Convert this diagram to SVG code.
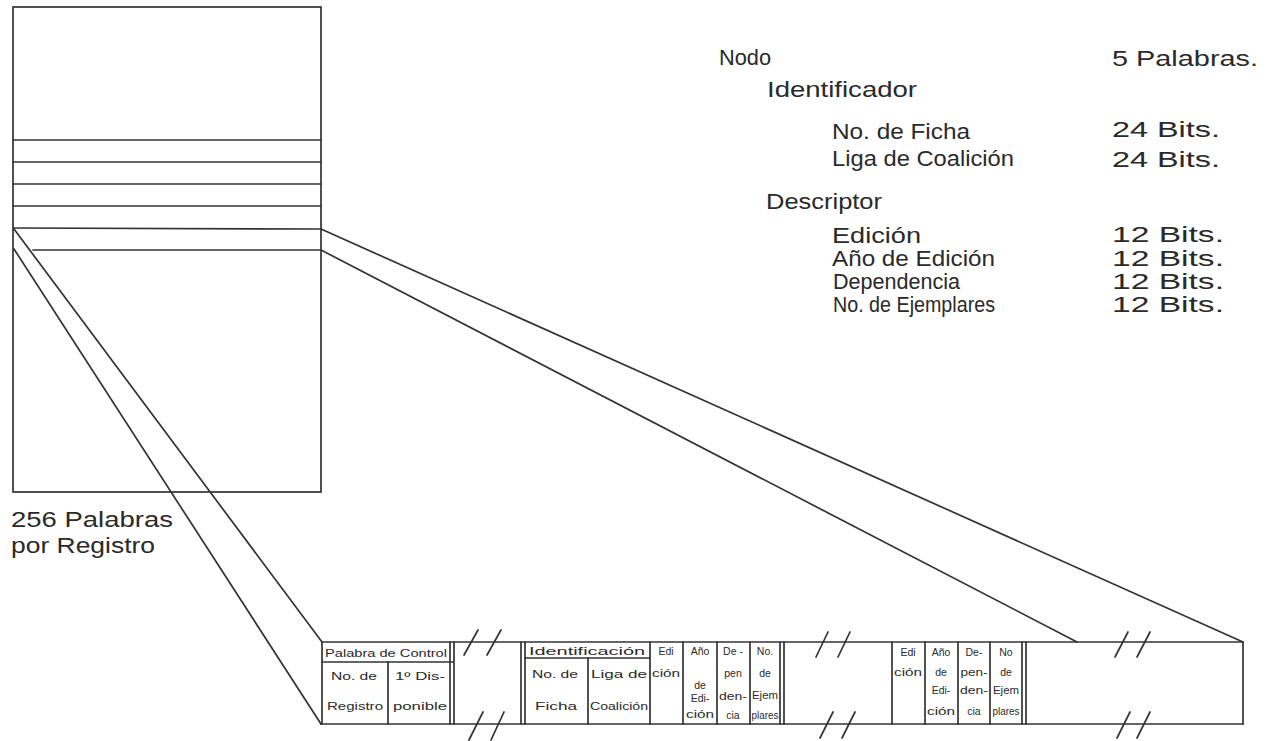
<svg xmlns="http://www.w3.org/2000/svg" width="1266" height="741" viewBox="0 0 1266 741">
<style>
.ln{stroke:#333;stroke-width:1.7;fill:none;stroke-linecap:round}
.t{font-family:"Liberation Sans",Arial,sans-serif;fill:#2a2a2a}
.big{font-size:22px}
.cell{font-size:10.5px;text-anchor:middle}
.hdr{font-size:11px;text-anchor:middle}
</style>
<rect width="1266" height="741" fill="#ffffff"/>

<g id="registro">
  <rect class="ln" x="13" y="7" width="308" height="485"/>
  <line class="ln" x1="13" y1="140" x2="321" y2="140"/>
  <line class="ln" x1="13" y1="162" x2="321" y2="162"/>
  <line class="ln" x1="13" y1="184" x2="321" y2="184"/>
  <line class="ln" x1="13" y1="206" x2="321" y2="206"/>
  <line class="ln" x1="13" y1="228" x2="321" y2="229"/>
  <line class="ln" x1="33" y1="250" x2="321" y2="250"/>
</g>

<g id="registro-label" class="t big">
  <text x="11" y="527" textLength="162" lengthAdjust="spacingAndGlyphs">256 Palabras</text>
  <text x="11" y="553" textLength="144" lengthAdjust="spacingAndGlyphs">por Registro</text>
</g>

<g id="nodo-legend" class="t big">
  <text x="719" y="65" textLength="52" lengthAdjust="spacingAndGlyphs">Nodo</text>
  <text x="1112" y="66" textLength="146" lengthAdjust="spacingAndGlyphs">5 Palabras.</text>
  <text x="767" y="97" textLength="150" lengthAdjust="spacingAndGlyphs">Identificador</text>
  <text x="832" y="139" textLength="138" lengthAdjust="spacingAndGlyphs">No. de Ficha</text>
  <text x="1112" y="137" textLength="108" lengthAdjust="spacingAndGlyphs">24 Bits.</text>
  <text x="832" y="166" textLength="182" lengthAdjust="spacingAndGlyphs">Liga de Coalición</text>
  <text x="1112" y="167" textLength="108" lengthAdjust="spacingAndGlyphs">24 Bits.</text>
  <text x="766" y="209" textLength="116" lengthAdjust="spacingAndGlyphs">Descriptor</text>
  <text x="832" y="243" textLength="89" lengthAdjust="spacingAndGlyphs">Edición</text>
  <text x="1112" y="242" textLength="112" lengthAdjust="spacingAndGlyphs">12 Bits.</text>
  <text x="832" y="266" textLength="163" lengthAdjust="spacingAndGlyphs">Año de Edición</text>
  <text x="1112" y="266" textLength="112" lengthAdjust="spacingAndGlyphs">12 Bits.</text>
  <text x="833" y="289" textLength="127" lengthAdjust="spacingAndGlyphs">Dependencia</text>
  <text x="1112" y="289" textLength="112" lengthAdjust="spacingAndGlyphs">12 Bits.</text>
  <text x="833" y="312" textLength="162" lengthAdjust="spacingAndGlyphs">No. de Ejemplares</text>
  <text x="1112" y="312" textLength="112" lengthAdjust="spacingAndGlyphs">12 Bits.</text>
</g>

<g id="connectors">
  <line class="ln" x1="14" y1="229" x2="322" y2="642"/>
  <line class="ln" x1="14" y1="249" x2="321" y2="724"/>
  <line class="ln" x1="321" y1="229" x2="1243" y2="642"/>
  <line class="ln" x1="321" y1="250" x2="1077" y2="642"/>
</g>

<g id="strip">
  <line class="ln" x1="322" y1="642" x2="1243" y2="642"/>
  <line class="ln" x1="321" y1="724" x2="1243" y2="724"/>
  <line class="ln" x1="1243" y1="642" x2="1243" y2="724"/>
  <line class="ln" x1="322" y1="642" x2="322" y2="724"/>
  <g id="breaks">
    <line class="ln" x1="464" y1="655" x2="478" y2="630"/>
    <line class="ln" x1="487" y1="655" x2="501" y2="630"/>
    <line class="ln" x1="469" y1="740" x2="483" y2="712"/>
    <line class="ln" x1="491" y1="740" x2="504" y2="712"/>
    <line class="ln" x1="816" y1="657" x2="828" y2="632"/>
    <line class="ln" x1="838" y1="657" x2="850" y2="632"/>
    <line class="ln" x1="820" y1="738" x2="833" y2="712"/>
    <line class="ln" x1="842" y1="738" x2="855" y2="712"/>
    <line class="ln" x1="1115" y1="657" x2="1128" y2="632"/>
    <line class="ln" x1="1137" y1="657" x2="1150" y2="632"/>
    <line class="ln" x1="1117" y1="738" x2="1130" y2="712"/>
    <line class="ln" x1="1137" y1="738" x2="1150" y2="712"/>
  </g>
</g>

<g id="palabra-control">
  <line class="ln" x1="322" y1="662" x2="453" y2="662"/>
  <line class="ln" x1="388" y1="662" x2="388" y2="724"/>
  <line class="ln" x1="450" y1="642" x2="450" y2="724"/>
  <line class="ln" x1="454" y1="642" x2="454" y2="724"/>
  <g class="t">
    <text class="hdr" x="386" y="657" textLength="122" lengthAdjust="spacingAndGlyphs">Palabra de Control</text>
    <text class="hdr" x="354" y="680" textLength="46" lengthAdjust="spacingAndGlyphs">No. de</text>
    <text class="hdr" x="355" y="710" textLength="56" lengthAdjust="spacingAndGlyphs">Registro</text>
    <text class="hdr" x="420" y="680" textLength="50" lengthAdjust="spacingAndGlyphs">1º Dis-</text>
    <text class="hdr" x="420" y="710" textLength="54" lengthAdjust="spacingAndGlyphs">ponible</text>
  </g>
</g>

<g id="nodo-1">
  <line class="ln" x1="521" y1="642" x2="521" y2="724"/>
  <line class="ln" x1="525" y1="642" x2="525" y2="724"/>
  <line class="ln" x1="525" y1="658" x2="650" y2="658"/>
  <line class="ln" x1="588" y1="658" x2="588" y2="724"/>
  <line class="ln" x1="650" y1="642" x2="650" y2="724"/>
  <line class="ln" x1="683" y1="642" x2="683" y2="724"/>
  <line class="ln" x1="717" y1="642" x2="717" y2="724"/>
  <line class="ln" x1="750" y1="642" x2="750" y2="724"/>
  <line class="ln" x1="780" y1="642" x2="780" y2="724"/>
  <line class="ln" x1="784" y1="642" x2="784" y2="724"/>
  <g class="t">
    <text class="hdr" x="587" y="655" textLength="116" lengthAdjust="spacingAndGlyphs">Identificación</text>
    <text class="hdr" x="555" y="678" textLength="46" lengthAdjust="spacingAndGlyphs">No. de</text>
    <text class="hdr" x="556" y="710" textLength="42" lengthAdjust="spacingAndGlyphs">Ficha</text>
    <text class="hdr" x="619" y="678" textLength="56" lengthAdjust="spacingAndGlyphs">Liga de</text>
    <text class="hdr" x="619" y="710" textLength="58" lengthAdjust="spacingAndGlyphs">Coalición</text>
    <text class="cell" x="666" y="655">Edi</text>
    <text class="cell" x="666" y="677" textLength="28" lengthAdjust="spacingAndGlyphs">ción</text>
    <text class="cell" x="700" y="655">Año</text>
    <text class="cell" x="700" y="689">de</text>
    <text class="cell" x="700" y="702">Edi-</text>
    <text class="cell" x="700" y="718" textLength="28" lengthAdjust="spacingAndGlyphs">ción</text>
    <text class="cell" x="733" y="655">De -</text>
    <text class="cell" x="733" y="677">pen</text>
    <text class="cell" x="733" y="700" textLength="28" lengthAdjust="spacingAndGlyphs">den-</text>
    <text class="cell" x="733" y="719">cia</text>
    <text class="cell" x="765" y="655">No.</text>
    <text class="cell" x="765" y="677">de</text>
    <text class="cell" x="765" y="699" textLength="26" lengthAdjust="spacingAndGlyphs">Ejem</text>
    <text class="cell" x="765" y="719" textLength="27" lengthAdjust="spacingAndGlyphs">plares</text>
  </g>
</g>

<g id="nodo-2">
  <line class="ln" x1="892" y1="642" x2="892" y2="724"/>
  <line class="ln" x1="925" y1="642" x2="925" y2="724"/>
  <line class="ln" x1="958" y1="642" x2="958" y2="724"/>
  <line class="ln" x1="990" y1="642" x2="990" y2="724"/>
  <line class="ln" x1="1022" y1="642" x2="1022" y2="724"/>
  <line class="ln" x1="1026" y1="642" x2="1026" y2="724"/>
  <g class="t">
    <text class="cell" x="908" y="656">Edi</text>
    <text class="cell" x="908" y="676" textLength="28" lengthAdjust="spacingAndGlyphs">ción</text>
    <text class="cell" x="941" y="656">Año</text>
    <text class="cell" x="941" y="676">de</text>
    <text class="cell" x="941" y="694">Edi-</text>
    <text class="cell" x="941" y="715" textLength="28" lengthAdjust="spacingAndGlyphs">ción</text>
    <text class="cell" x="974" y="656">De-</text>
    <text class="cell" x="974" y="676" textLength="27" lengthAdjust="spacingAndGlyphs">pen-</text>
    <text class="cell" x="974" y="694" textLength="28" lengthAdjust="spacingAndGlyphs">den-</text>
    <text class="cell" x="974" y="715">cia</text>
    <text class="cell" x="1006" y="656">No</text>
    <text class="cell" x="1006" y="676">de</text>
    <text class="cell" x="1006" y="694" textLength="26" lengthAdjust="spacingAndGlyphs">Ejem</text>
    <text class="cell" x="1006" y="715" textLength="27" lengthAdjust="spacingAndGlyphs">plares</text>
  </g>
</g>
</svg>
